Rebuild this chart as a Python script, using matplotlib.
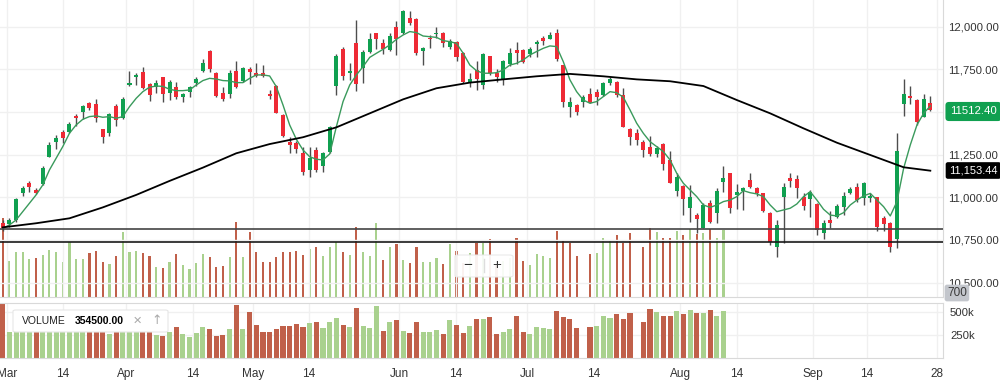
import matplotlib.pyplot as plt
import numpy as np
from matplotlib.patches import FancyBboxPatch
from matplotlib.lines import Line2D

plt.rcParams['font.family'] = ['Liberation Sans', 'DejaVu Sans']

# -----------------------Data-----------------------
opens = [10850, 10844, 10867, 11027, 11082, 11043, 11076, 11234, 11326, 11385,
         11381, 11479, 11502, 11555, 11549, 11398, 11379, 11535, 11463, 11656,
         11703, 11736, 11662, 11645, 11707, 11613, 11645, 11590, 11619, 11668,
         11740, 11857, 11730, 11613, 11605, 11740, 11684, 11750, 11727, 11727,
         11605, 11652, 11482, 11326, 11316, 11262, 11160, 11277, 11184, 11264,
         11652, 11867, 11730, 11902, 11756, 11854, 11961, 11906, 11863, 12000,
         11961, 12049, 12043, 11859, 11936, 11955, 11965, 11879, 11912, 11848,
         11676, 11746, 11658, 11828, 11730, 11691, 11781, 11863, 11863, 11840,
         11896, 11936, 11928, 11965, 11775, 11531, 11539, 11561, 11604, 11617,
         11600, 11668, 11678, 11600, 11398, 11375, 11326, 11297, 11254, 11313,
         11219, 11039, 11066, 10936, 10897, 10822, 10969, 10906, 11092, 11145,
         11014, 11039, 11102, 11053, 11023, 10910, 10709, 11004, 11111, 11106,
         11000, 10988, 10961, 10793, 10867, 10883, 10941, 11027, 11059, 10994,
         10994, 11000, 10877, 10852, 10754, 11547, 11594, 11570, 11473, 11555]
highs = [10870, 10877, 10994, 11066, 11096, 11053, 11184, 11326, 11365, 11395,
         11443, 11486, 11541, 11561, 11574, 11398, 11496, 11547, 11586, 11740,
         11730, 11762, 11668, 11688, 11707, 11688, 11678, 11609, 11652, 11703,
         11809, 11863, 11736, 11645, 11746, 11799, 11766, 11766, 11789, 11775,
         11629, 11658, 11486, 11355, 11332, 11297, 11297, 11297, 11268, 11418,
         11840, 11883, 11789, 12039, 11863, 11961, 11965, 11926, 11965, 12035,
         12098, 12094, 12049, 11883, 11951, 12000, 11971, 11926, 11918, 11854,
         11727, 11799, 11844, 11828, 11750, 11805, 11873, 11912, 11867, 11883,
         11922, 11945, 11971, 11984, 11775, 11586, 11547, 11600, 11639, 11633,
         11678, 11703, 11684, 11639, 11404, 11398, 11336, 11359, 11301, 11316,
         11273, 11145, 11072, 11072, 10906, 10969, 10984, 11053, 11184, 11145,
         11078, 11063, 11145, 11059, 11027, 10916, 10867, 11086, 11141, 11131,
         11023, 11043, 10965, 10867, 10922, 10961, 11033, 11063, 11086, 11092,
         11023, 11004, 10891, 10857, 11379, 11693, 11652, 11574, 11605, 11594]
lows = [10805, 10828, 10857, 11008, 11033, 11020, 11072, 11234, 11281, 11320,
        11379, 11418, 11457, 11512, 11443, 11316, 11359, 11418, 11457, 11652,
        11658, 11633, 11566, 11613, 11561, 11570, 11574, 11557, 11586, 11652,
        11736, 11736, 11590, 11566, 11580, 11639, 11678, 11664, 11707, 11703,
        11574, 11492, 11355, 11262, 11258, 11131, 11117, 11150, 11150, 11258,
        11600, 11688, 11688, 11625, 11668, 11848, 11867, 11840, 11859, 11834,
        11957, 12010, 11834, 11775, 11873, 11932, 11883, 11867, 11801, 11672,
        11645, 11629, 11633, 11717, 11678, 11658, 11770, 11781, 11785, 11820,
        11820, 11893, 11926, 11801, 11531, 11469, 11482, 11527, 11551, 11541,
        11594, 11658, 11590, 11410, 11307, 11307, 11238, 11242, 11238, 11160,
        11082, 11008, 10897, 10857, 10789, 10818, 10848, 10852, 11033, 10910,
        10930, 10926, 11053, 11008, 10916, 10721, 10648, 10732, 11059, 10994,
        10926, 10883, 10779, 10754, 10818, 10877, 10897, 11020, 10975, 10955,
        10975, 10803, 10805, 10682, 10701, 11477, 11547, 11424, 11469, 11508]
closes = [10818, 10867, 10990, 11057, 11063, 11027, 11174, 11307, 11346, 11350,
          11428, 11463, 11537, 11522, 11463, 11355, 11486, 11453, 11574, 11672,
          11717, 11639, 11600, 11668, 11605, 11678, 11590, 11604, 11645, 11693,
          11789, 11750, 11594, 11574, 11730, 11645, 11760, 11736, 11711, 11711,
          11594, 11496, 11359, 11307, 11281, 11150, 11229, 11160, 11262, 11410,
          11828, 11711, 11742, 11664, 11854, 11926, 11928, 11867, 11945, 11926,
          12094, 12020, 11848, 11873, 11926, 11965, 11906, 11916, 11824, 11678,
          11691, 11691, 11838, 11727, 11703, 11799, 11848, 11844, 11795, 11867,
          11912, 11918, 11951, 11809, 11561, 11559, 11502, 11586, 11555, 11590,
          11668, 11691, 11600, 11414, 11355, 11336, 11277, 11254, 11287, 11195,
          11086, 11121, 10988, 11004, 10871, 10955, 10857, 11037, 11115, 10936,
          11033, 11053, 11059, 11023, 10922, 10740, 10838, 11059, 11098, 11053,
          10949, 11033, 10809, 10852, 10852, 10949, 11008, 11047, 10984, 11082,
          11008, 10824, 10844, 10711, 11273, 11604, 11580, 11443, 11574, 11512]

# short moving average (green), one value per candle
ma_fast = [10818, 10838, 10867, 10916, 10965, 11014, 11072, 11160, 11228, 11297,
           11375, 11424, 11457, 11473, 11477, 11469, 11473, 11463, 11473, 11531,
           11580, 11619, 11645, 11652, 11650, 11633, 11625, 11625, 11629, 11658,
           11684, 11697, 11693, 11684, 11682, 11672, 11672, 11697, 11717, 11717,
           11711, 11648, 11541, 11424, 11340, 11277, 11238, 11223, 11219, 11254,
           11414, 11561, 11658, 11717, 11766, 11820, 11844, 11867, 11893, 11926,
           11951, 11971, 11965, 11945, 11941, 11937, 11918, 11912, 11902, 11844,
           11775, 11742, 11727, 11727, 11730, 11746, 11775, 11785, 11805, 11834,
           11854, 11873, 11887, 11883, 11795, 11688, 11619, 11570, 11551, 11561,
           11590, 11619, 11613, 11586, 11512, 11434, 11375, 11326, 11297, 11268,
           11219, 11141, 11082, 11043, 11004, 10955, 10941, 10955, 10975, 10984,
           11004, 11039, 11027, 11020, 11004, 10955, 10916, 10926, 10936, 10961,
           11004, 11033, 10984, 10930, 10896, 10891, 10910, 10955, 10984, 11008,
           11023, 10984, 10945, 10891, 10975, 11170, 11307, 11424, 11492, 11535]

# long moving average (black), read every few candles
ma_slow_idx = [0, 5, 10, 15, 20, 25, 30, 35, 40, 45, 50, 55, 60, 65, 70, 75, 80,
               85, 90, 95, 100, 105, 110, 115, 120, 125, 130, 135, 139]
ma_slow = [10824, 10848, 10877, 10941, 11014, 11096, 11174, 11258, 11312, 11352,
           11410, 11492, 11574, 11639, 11672, 11691, 11709, 11723, 11709, 11691,
           11680, 11652, 11570, 11492, 11404, 11320, 11248, 11176, 11156]

# volume in thousands (None = no bar)
volume_k = [604, 288, 353, 353, 301, 308, 333, 370, 357, 279,
            431, 301, 301, 345, 362, 279, 266, 325, 501, 357,
            362, 345, 325, 246, 239, 283, 340, 259, 229, 271,
            338, 320, 242, 254, 316, 575, 316, 501, 357, 283,
            279, 316, 353, 353, 365, 333, 377, 390, 328, 390,
            431, 357, 333, 540, 353, 328, 567, 296, 394, 416,
            296, 276, 390, 283, 283, 308, 266, 414, 362, 275,
            348, 420, 420, 449, 261, 286, 312, 457, 286, 261,
            340, 323, 312, 511, 442, 424, 323, None, 340, 351,
            457, 438, 478, 424, 492, None, 395, 529, 503, 457,
            457, 511, 478, 522, 486, 492, 522, 457, 514]
volume_dir = ('rggggrggggggg' 'rrrgrgggrrgrgrgggg' 'rrrgrgrrrrrrrrrgrggg'
              'rgrgggrgrgrrgggrgrrgrgrrggrrggggrrrr-rgggrrr-rrgrrgrgrgrgg')

price_lines = [10813, 10740]
last_close = 11512.40
slow_last = 11153.44

tick_pos = [0.64, 9.0, 18.5, 28.5, 37.5, 45.9, 59.4, 67.9, 78.6, 88.6,
            101.5, 110.0, 121.4, 129.5, 140.0]
tick_labels = ['Mar', '14', 'Apr', '14', 'May', '14', 'Jun', '14', 'Jul', '14',
               'Aug', '14', 'Sep', '14', '28']

# -----------------------Fig configuration-----------------------
W, H = 1000, 389
up_color = '#10a050'
down_color = '#ee2a35'
wick_color = '#4d4d4d'
vol_up = '#a9d18e'
vol_down = '#c0604a'
grid_color = '#f0f0f0'
border = '#d9d9d9'
text_color = '#333333'
xlim = (-0.405, 140.9)


def fx(px):
    return px / W


def fy(py):
    return 1 - py / H


fig = plt.figure(figsize=(W / 100, H / 100), dpi=100)
fig.patch.set_facecolor('white')

ax_ov = fig.add_axes([0, fy(297), fx(943), 297 / H])
ax = fig.add_axes([0, fy(297), fx(943), 297 / H], sharex=ax_ov)
ax_vol = fig.add_axes([0, fy(358), fx(943), 55 / H])
ax.set_zorder(ax_ov.get_zorder() + 1)
ax.patch.set_visible(False)

n = len(closes)
idx = np.arange(n)
o = np.array(opens, float)
c = np.array(closes, float)
hi = np.array(highs, float)
lo = np.array(lows, float)

# -----------------------Volume overlay (main pane)-----------------------
vol = np.array([np.nan if v is None else v for v in volume_k], float)
vidx = np.arange(len(vol))
vcols = [vol_up if d == 'g' else vol_down for d in volume_dir]
ok = ~np.isnan(vol)
ax_ov.bar(vidx[ok], vol[ok], width=0.32, color=np.array(vcols)[ok], linewidth=0)
ax_ov.set_ylim(22.2, 2218.5)
ax_ov.set_xlim(*xlim)
ax_ov.axis('off')

# -----------------------Candles-----------------------
for x in tick_pos:
    ax.axvline(x, color=grid_color, lw=1, zorder=0)
for p in range(10500, 12001, 250):
    ax.axhline(p, color=grid_color, lw=1, zorder=0)

cols = np.where(c >= o, up_color, down_color)
ax.vlines(idx, lo, hi, color=wick_color, lw=1.0, zorder=2)
body_lo = np.minimum(o, c)
body_h = np.maximum(np.abs(c - o), 6)
ax.bar(idx, body_h, bottom=body_lo, width=0.6, color=cols, linewidth=0, zorder=3)

ax.plot(idx, ma_fast, color='#3a9a5c', lw=1.0, zorder=4)
ax.plot(ma_slow_idx, ma_slow, color='black', lw=1.3, zorder=4)
ax.axhline(price_lines[0], color='#444444', lw=1.2, zorder=5)
ax.axhline(price_lines[1], color='#1a1a1a', lw=1.2, zorder=5)

ax.set_xlim(*xlim)
ax.set_ylim(10416, 12156)
ax.yaxis.tick_right()
yt = [10500, 10750, 11000, 11250, 11500, 11750, 12000]
ax.set_yticks(yt)
ax.set_yticklabels(['10,500.00', '10,750.00', '11,000.00', '11,250.00', '',
                    '11,750.00', '12,000.00'], fontsize=8.2, color=text_color)
ax.tick_params(axis='y', length=0, pad=4)
ax.tick_params(axis='x', bottom=False, labelbottom=False)
for s in ['left', 'top']:
    ax.spines[s].set_visible(False)
ax.spines['right'].set_color(border)
ax.spines['bottom'].set_color(border)

# -----------------------Volume pane-----------------------
for x in tick_pos:
    ax_vol.axvline(x, color=grid_color, lw=1, zorder=0)
for p in [250000, 500000]:
    ax_vol.axhline(p, color=grid_color, lw=1, zorder=0)
ax_vol.bar(vidx[ok], vol[ok] * 1000, width=0.76, color=np.array(vcols)[ok], linewidth=0, zorder=2)
ax_vol.set_xlim(*xlim)
ax_vol.set_ylim(0, 598000)
ax_vol.yaxis.tick_right()
ax_vol.set_yticks([250000, 500000])
ax_vol.set_yticklabels(['250k', '500k'], fontsize=8.2, color=text_color)
ax_vol.tick_params(axis='y', length=0, pad=5)
ax_vol.set_xticks(tick_pos)
ax_vol.set_xticklabels(tick_labels, fontsize=8.5, color=text_color)
ax_vol.tick_params(axis='x', length=0, pad=7)
ax_vol.spines['left'].set_visible(False)
for s in ['top', 'right', 'bottom']:
    ax_vol.spines[s].set_color(border)

# -----------------------Labels and overlays-----------------------
fig.text(fx(950), fy(111.5), f'{last_close:.2f}', fontsize=8.2, color='white', va='center', ha='left',
         bbox=dict(boxstyle='round,pad=0.4,rounding_size=0.3', fc=up_color, ec='none'))
fig.text(fx(949), fy(170.5), f'{slow_last:,.2f}', fontsize=8, color='white', va='center', ha='left',
         bbox=dict(boxstyle='round,pad=0.3,rounding_size=0.2', fc='black', ec='none'))
fig.text(fx(947), fy(293), '700', fontsize=8.5, color='#3a3a3a', va='center', ha='left',
         bbox=dict(boxstyle='round,pad=0.2,rounding_size=0.2', fc='#c3c6cc', ec='none'))

# volume legend box
fig.add_artist(FancyBboxPatch((fx(13), fy(332)), fx(155), 22 / H, transform=fig.transFigure,
                              boxstyle='round,pad=0,rounding_size=0.003', fc='white', ec='#e6e6e6', lw=0.8))
fig.text(fx(22), fy(321), 'VOLUME', fontsize=7.5, color='#222222', va='center')
fig.text(fx(75), fy(321.5), '354500.00', fontsize=7.5, color='black', va='center', weight='bold')
fig.text(fx(137), fy(321), '\u2715', fontsize=8, color='#aaaaaa', va='center', ha='center',
         family='DejaVu Sans')
fig.text(fx(157), fy(321), '\u2191', fontsize=9, color='#aaaaaa', va='center', ha='center',
         family='DejaVu Sans')

# zoom control
fig.add_artist(FancyBboxPatch((fx(455), fy(277)), fx(58), 22 / H, transform=fig.transFigure,
                              boxstyle='round,pad=0,rounding_size=0.004', fc='white', ec='#e8e8e8',
                              lw=0.8, alpha=0.92))
fig.text(fx(468), fy(265), '\u2212', fontsize=11, color='#333333', va='center', ha='center')
fig.text(fx(497), fy(265), '+', fontsize=11, color='#333333', va='center', ha='center')
fig.add_artist(Line2D([fx(484), fx(484)], [fy(259), fy(272)], transform=fig.transFigure,
                      color='#dddddd', lw=1))

plt.savefig('out.png', dpi=100, facecolor='white')
